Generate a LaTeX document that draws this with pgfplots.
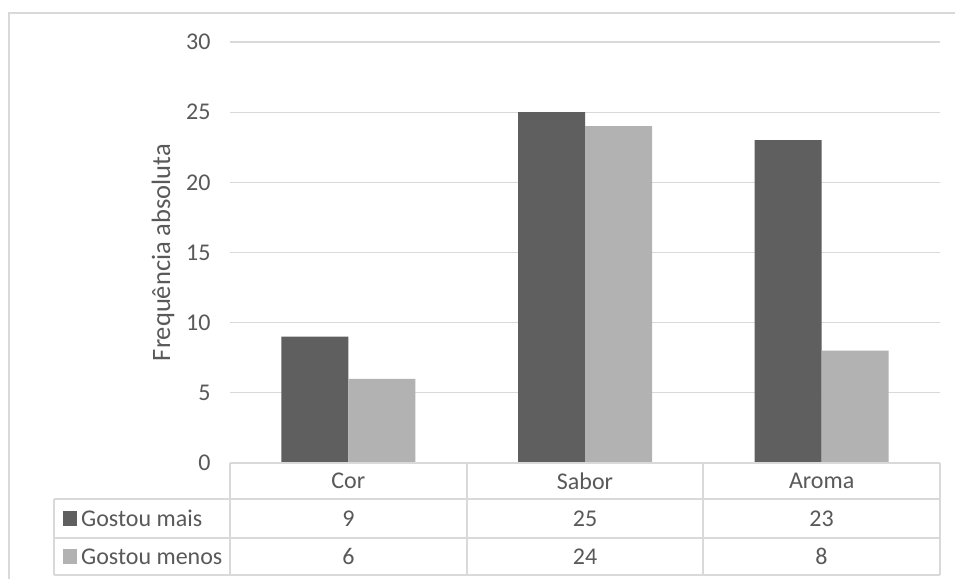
\documentclass[border=0pt]{standalone}
\usepackage{pgfplots}
\pgfplotsset{compat=1.18}
\usepackage{fontspec}
\setmainfont{Carlito}
\definecolor{txt}{HTML}{595959}
\definecolor{grd}{HTML}{D9D9D9}
\definecolor{dark}{HTML}{5F5F5F}
\definecolor{light}{HTML}{B2B2B2}
\begin{document}
\begin{tikzpicture}[x=1pt,y=1pt]
\useasboundingbox (0,0) rectangle (955,-579);
\fill[white] (0,0) rectangle (955,-579);
\draw[grd, line width=1.5pt] (955,-13) -- (9,-13) -- (9,-579);
\begin{axis}[
  at={(230pt,-463pt)}, anchor=south west,
  scale only axis, width=710pt, height=421pt,
  xmin=-0.5, xmax=2.5, ymin=0, ymax=30,
  ytick={0,5,...,30},
  xtick={0,1,2}, xticklabels={Cor,Sabor,Aroma},
  ybar=0pt, bar width=67pt,
  axis line style={draw=none},
  major tick length=0pt,
  ymajorgrids, grid style={grd, line width=1.3pt},
  clip=false,
  font=\fontsize{24}{28}\selectfont,
  /pgf/number format/assume math mode=true,
  tick label style={text=txt},
  yticklabel style={anchor=east, xshift=-16pt},
  xticklabel style={anchor=center, yshift=-18pt},
  ylabel={Frequência absoluta},
  ylabel style={at={(axis description cs:-0.0944,0.5)}, anchor=center, text=txt, font=\fontsize{26.5}{30}\selectfont},
]
\addplot[fill=dark, draw=none] coordinates {(0,9) (1,25) (2,23)};
\addplot[fill=light, draw=none] coordinates {(0,6) (1,24) (2,8)};
\end{axis}
% data table
\begin{scope}[yscale=-1]
\begin{scope}[grd, line width=1.3pt]
\draw (230,463) -- (940,463);
\draw (54,499) -- (940,499);
\draw (54,538) -- (940,538);
\draw (54,575) -- (940,575);
\draw (54,499) -- (54,575);
\draw (230,463) -- (230,575);
\draw (467,463) -- (467,575);
\draw (703,463) -- (703,575);
\draw (940,463) -- (940,575);
\end{scope}
\fill[dark] (63,511) rectangle (77,526);
\fill[light] (63,549) rectangle (77,564);
\begin{scope}[font=\fontsize{24}{28}\selectfont, text=txt]
\node[anchor=west, inner sep=0] at (81,518.5) {Gostou mais};
\node[anchor=west, inner sep=0] at (81,556.5) {Gostou menos};
\node at (348.5,518.5) {9};
\node at (585,518.5) {25};
\node at (821.5,518.5) {23};
\node at (348.5,556.5) {6};
\node at (585,556.5) {24};
\node at (821.5,556.5) {8};
\end{scope}
\end{scope}
\end{tikzpicture}
\end{document}
